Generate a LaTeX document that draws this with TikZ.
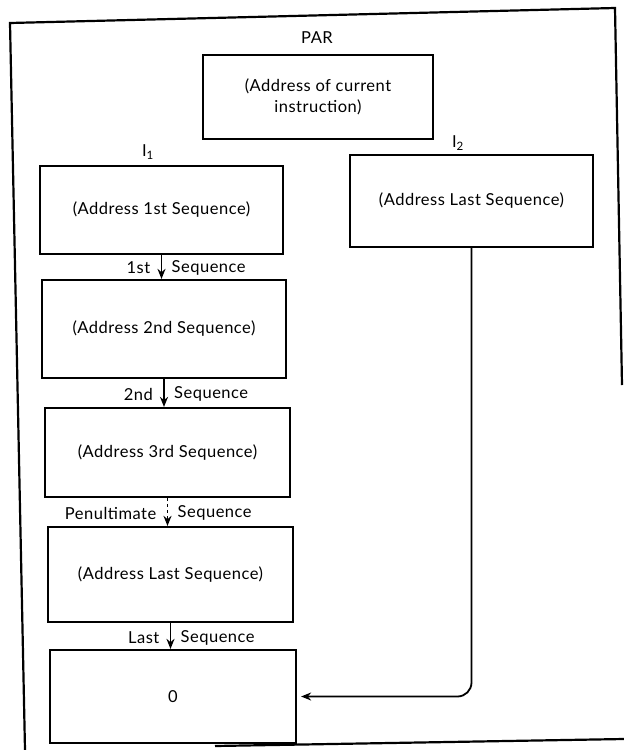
\documentclass[tikz,border=0pt]{standalone}
\usepackage{fontspec}
\setmainfont[LetterSpace=3]{Lato}
\usetikzlibrary{arrows.meta}
\begin{document}
\begin{tikzpicture}[x=1pt,y=-1pt,
  box/.style={draw,line width=2.2pt,inner sep=0pt,align=center,font=\fontsize{16.5}{21}\selectfont},
  lbl/.style={font=\fontsize{16.5}{19}\selectfont,inner sep=1pt},
  arr/.style={line width=1.8pt,-{Stealth[length=10pt,width=8pt]}},
  frame/.style={line width=2.2pt}]
\useasboundingbox (0,0) rectangle (624,750);
% outer frame
\draw[frame] (25,750) -- (10,23) -- (615,8) -- (622,385);
\draw[frame] (215,746) -- (624,739);
% boxes
\node[box,minimum width=230pt,minimum height=84pt] (par) at (318,97) {(Address of current\\instruction)};
\node[lbl] (parl) at (317,38) {PAR};
\node[box,minimum width=243pt,minimum height=88pt] (b1) at (161.5,210) {(Address 1st Sequence)};
\node[lbl] (i1) at (148,152) {I\textsubscript{1}};
\node[box,minimum width=243pt,minimum height=92pt] (rb) at (471.5,201) {(Address Last Sequence)};
\node[lbl] (i2) at (458,143) {I\textsubscript{2}};
\node[box,minimum width=244pt,minimum height=98pt] (b2) at (164,329) {(Address 2nd Sequence)};
\node[box,minimum width=245pt,minimum height=89pt] (b3) at (167.5,452.5) {(Address 3rd Sequence)};
\node[box,minimum width=245pt,minimum height=95pt] (b4) at (170.5,574.5) {(Address Last Sequence)};
\node[box,minimum width=246pt,minimum height=93pt] (b5) at (173,696.5) {0};
% arrows
\draw[arr] (b1.south) -- (b1.south |- b2.north);
\draw[arr] (b2.south) -- (b2.south |- b3.north);
\draw[arr,dashed] (b3.south) -- (b3.south |- b4.north);
\draw[arr] (b4.south) -- (b4.south |- b5.north);
\draw[arr,rounded corners=14pt,shorten >=4pt] (rb.south) |- (b5.east);
% arrow labels
\node[lbl,anchor=east] (l1a) at ([xshift=-10pt,yshift=-13pt]b1.south) {1st};
\node[lbl,anchor=west] (l1b) at ([xshift=9pt,yshift=-13pt]b1.south) {Sequence};
\node[lbl,anchor=east] (l2a) at ([xshift=-10pt,yshift=-15pt]b2.south) {2nd};
\node[lbl,anchor=west] (l2b) at ([xshift=9pt,yshift=-15pt]b2.south) {Sequence};
\node[lbl,anchor=east] (l3a) at ([xshift=-10pt,yshift=-15pt]b3.south) {Penultimate};
\node[lbl,anchor=west] (l3b) at ([xshift=9pt,yshift=-15pt]b3.south) {Sequence};
\node[lbl,anchor=east] (l4a) at ([xshift=-10pt,yshift=-15pt]b4.south) {Last};
\node[lbl,anchor=west] (l4b) at ([xshift=9pt,yshift=-15pt]b4.south) {Sequence};
\end{tikzpicture}
\end{document}
